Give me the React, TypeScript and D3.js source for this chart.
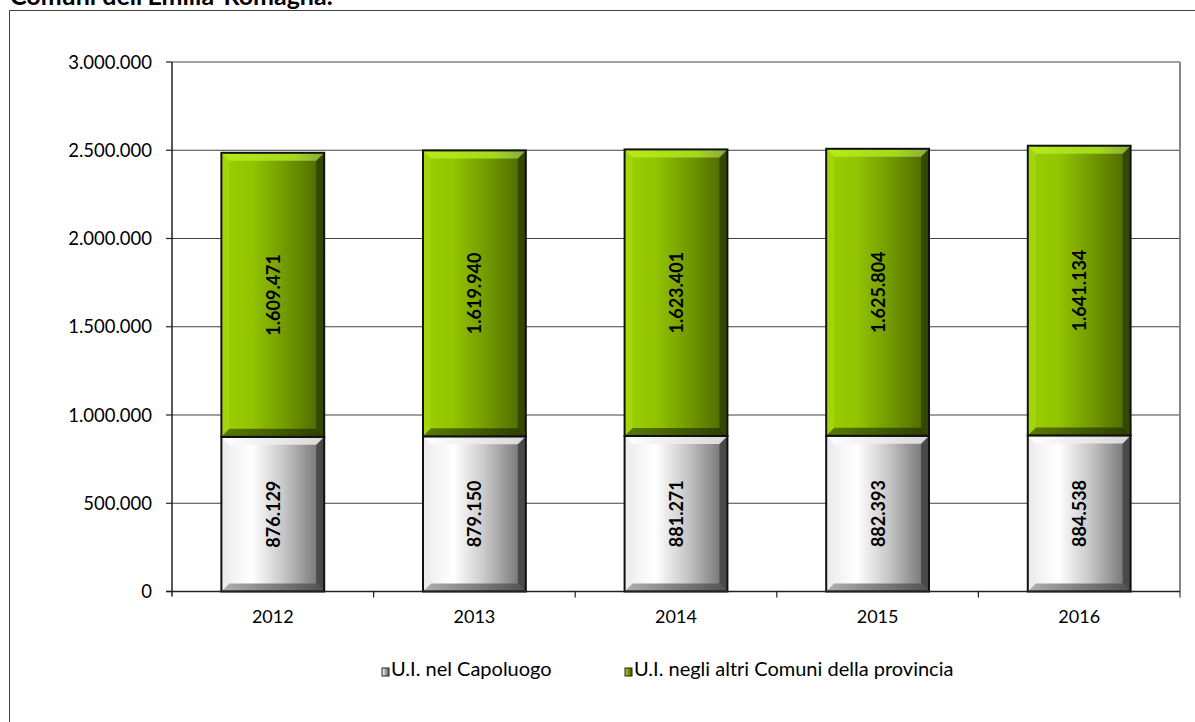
import React from "react";
import * as d3 from "d3";

const years = ["2012", "2013", "2014", "2015", "2016"];
const capoluogo = [876129, 879150, 881271, 882393, 884538];
const altriComuni = [1609471, 1619940, 1623401, 1625804, 1641134];
const yTicks = [0, 500000, 1000000, 1500000, 2000000, 2500000, 3000000];
const seriesNames = ["U.I.  nel Capoluogo", "U.I.  negli altri Comuni della provincia"];
const title = "Comuni dell'Emilia-Romagna.";

const W = 1195;
const H = 722;
const FONT = "Lato, 'Open Sans', sans-serif";

const locale = d3.formatLocale({ decimal: ",", thousands: ".", grouping: [3], currency: ["", ""] });
const fmt = locale.format(",d");

export default function App() {
  const left = 172;
  const right = 1180;
  const top = 62;
  const bottom = 591.5;

  const x = d3.scaleBand<string>().domain(years).range([left, right]).paddingInner(0.49).paddingOuter(0.245);
  const y = d3.scaleLinear().domain([0, 3000000]).range([bottom, top]);
  const bw = x.bandwidth();

  const bev = 8;

  const segment = (x0: number, y0: number, y1: number, kind: "w" | "g", key: string) => {
    const h = y1 - y0;
    const b = Math.min(bev, h / 4);
    const x1 = x0 + bw;
    const topPoly = `${x0},${y0} ${x1},${y0} ${x1 - b},${y0 + b} ${x0 + b},${y0 + b}`;
    const botPoly = `${x0},${y1} ${x1},${y1} ${x1 - b},${y1 - b} ${x0 + b},${y1 - b}`;
    const rightPoly = `${x1},${y0} ${x1},${y1} ${x1 - b},${y1 - b} ${x1 - b},${y0 + b}`;
    const leftPoly = `${x0},${y0} ${x0},${y1} ${x0 + b},${y1 - b} ${x0 + b},${y0 + b}`;
    return (
      <g key={key}>
        <rect x={x0} y={y0} width={bw} height={h} fill={`url(#${kind}Main)`} />
        <polygon points={leftPoly} fill={kind === "g" ? "#a8dc10" : "#ececec"} opacity={0.6} />
        <polygon points={rightPoly} fill={kind === "g" ? "#2a3c00" : "#3c3c3c"} opacity={0.75} />
        <polygon points={topPoly} fill={`url(#${kind}Top)`} />
        <polygon points={botPoly} fill={`url(#${kind}Bot)`} />
        <rect x={x0} y={y0} width={bw} height={h} fill="none" stroke="#111" strokeWidth={2} />
      </g>
    );
  };

  return (
    <svg width={W} height={H} style={{ position: "absolute", left: 0, top: 0, background: "#fff" }} fontFamily={FONT}>
      <defs>
        <linearGradient id="gMain" x1="0" x2="1" y1="0" y2="0">
          <stop offset="0" stopColor="#9ccf00" />
          <stop offset="0.3" stopColor="#92c400" />
          <stop offset="0.7" stopColor="#6a8f00" />
          <stop offset="1" stopColor="#4a6400" />
        </linearGradient>
        <linearGradient id="gTop" x1="0" x2="1" y1="0" y2="0">
          <stop offset="0" stopColor="#b6ec18" />
          <stop offset="0.7" stopColor="#a4d81c" />
          <stop offset="1" stopColor="#88a840" />
        </linearGradient>
        <linearGradient id="gBot" x1="0" x2="1" y1="0" y2="0">
          <stop offset="0" stopColor="#5a7c00" />
          <stop offset="1" stopColor="#2c3c00" />
        </linearGradient>
        <linearGradient id="wMain" x1="0" x2="1" y1="0" y2="0">
          <stop offset="0" stopColor="#ececec" />
          <stop offset="0.3" stopColor="#ffffff" />
          <stop offset="0.6" stopColor="#c8c8c8" />
          <stop offset="1" stopColor="#6a6a6a" />
        </linearGradient>
        <linearGradient id="wTop" x1="0" x2="1" y1="0" y2="0">
          <stop offset="0" stopColor="#ffffff" />
          <stop offset="1" stopColor="#d8d8d8" />
        </linearGradient>
        <linearGradient id="wBot" x1="0" x2="1" y1="0" y2="0">
          <stop offset="0" stopColor="#b0b0b0" />
          <stop offset="1" stopColor="#505050" />
        </linearGradient>
        <linearGradient id="legW" x1="0" x2="1" y1="0" y2="0">
          <stop offset="0" stopColor="#ffffff" />
          <stop offset="1" stopColor="#555" />
        </linearGradient>
        <linearGradient id="legG" x1="0" x2="1" y1="0" y2="0">
          <stop offset="0" stopColor="#a8dc10" />
          <stop offset="1" stopColor="#3c5200" />
        </linearGradient>
      </defs>

      <text x={10} y={5} fontSize={25} fontWeight="bold" fill="#000">{title}</text>
      <rect x={9.5} y={10.5} width={1200} height={800} fill="none" stroke="#404040" strokeWidth={1} />

      {/* gridlines */}
      {yTicks.filter((t) => t > 0).map((t) => (
        <line key={t} x1={left} x2={right} y1={y(t)} y2={y(t)} stroke={t === 3000000 ? "#868686" : "#404040"} strokeWidth={t === 3000000 ? 1.5 : 1} />
      ))}
      <line x1={right} x2={right} y1={top} y2={bottom + 6} stroke="#868686" strokeWidth={2} />

      {/* bars */}
      {years.map((yr, i) => {
        const x0 = x(yr)!;
        const c = capoluogo[i];
        const a = altriComuni[i];
        return (
          <g key={yr}>
            {segment(x0, y(c), y(0), "w", "w" + yr)}
            {segment(x0, y(c + a), y(c), "g", "g" + yr)}
          </g>
        );
      })}

      {/* value labels */}
      {years.map((yr, i) => {
        const cx = x(yr)! + bw / 2;
        const c = capoluogo[i];
        const a = altriComuni[i];
        const m1 = (y(0) + y(c)) / 2;
        const m2 = (y(c) + y(c + a)) / 2;
        return (
          <g key={"l" + yr} fontSize={18} fontWeight="bold" fill="#000">
            <text transform={`translate(${cx + 7},${m1}) rotate(-90)`} textAnchor="middle">{fmt(c)}</text>
            <text transform={`translate(${cx + 7},${m2}) rotate(-90)`} textAnchor="middle">{fmt(a)}</text>
          </g>
        );
      })}

      {/* axes */}
      <line x1={left} x2={left} y1={top} y2={bottom + 5} stroke="#222" strokeWidth={1.5} />
      <line x1={left - 6} x2={right} y1={bottom} y2={bottom} stroke="#222" strokeWidth={1.5} />
      {yTicks.map((t) => (
        <g key={"yt" + t}>
          <line x1={left - 6} x2={left} y1={y(t)} y2={y(t)} stroke="#222" strokeWidth={1.2} />
          <text x={left - 20} y={y(t) + 6.5} textAnchor="end" fontSize={18.5} fill="#000">{fmt(t)}</text>
        </g>
      ))}
      {years.map((yr, i) => {
        const bx = left + (i + 1) * x.step();
        return (
          <g key={"xt" + yr}>
            {i < years.length - 1 && <line x1={bx} x2={bx} y1={bottom} y2={bottom + 6} stroke="#222" strokeWidth={1.2} />}
            <text x={x(yr)! + bw / 2} y={623} textAnchor="middle" fontSize={18} fill="#000">{yr}</text>
          </g>
        );
      })}

      {/* legend */}
      <g fontSize={20} fill="#000" style={{ whiteSpace: "pre" }}>
        <rect x={382} y={668} width={7} height={8} fill="url(#legW)" stroke="#222" strokeWidth={1} />
        <text x={391} y={676}>{seriesNames[0]}</text>
        <rect x={625} y={668} width={7} height={8} fill="url(#legG)" stroke="#222" strokeWidth={1} />
        <text x={634} y={676}>{seriesNames[1]}</text>
      </g>
    </svg>
  );
}
